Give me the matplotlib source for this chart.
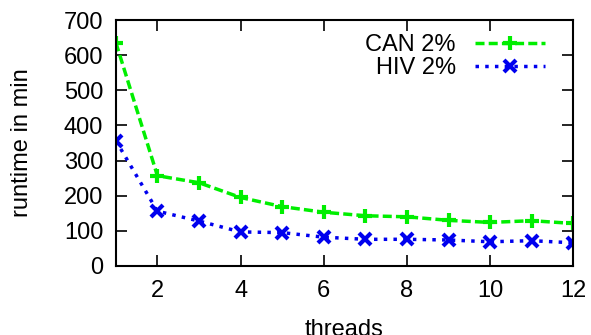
import matplotlib
matplotlib.use("Agg")
import matplotlib.pyplot as plt

threads = [1, 2, 3, 4, 5, 6, 7, 8, 9, 10, 11, 12]
can_2 = [636, 257, 237, 195, 169, 153, 143, 140, 130, 124, 129, 121]
hiv_2 = [357, 156, 128, 97, 95, 82, 76, 76, 74, 69, 72, 66]
xticks = [2, 4, 6, 8, 10, 12]
yticks = [0, 100, 200, 300, 400, 500, 600, 700]

plt.rcParams['font.family'] = ['Liberation Sans', 'DejaVu Sans']
plt.rcParams['font.size'] = 17

fig = plt.figure(figsize=(5.91, 3.35), dpi=100)
ax = fig.add_axes([0.196, 0.206, 0.774, 0.734])

ax.plot(threads, can_2, color='#00ee00', lw=2.5, dashes=(2.6, 1.2),
        marker='+', ms=10, mew=3, label='CAN 2%')
ax.plot(threads, hiv_2, color='#0000ee', lw=2.5, dashes=(1, 1.8),
        marker='x', ms=8, mew=3, label='HIV 2%')

ax.set_xlim(1, 12)
ax.set_ylim(0, 700)
ax.set_xticks(xticks)
ax.set_yticks(yticks)
ax.tick_params(direction='in', top=True, right=True, length=8, width=1.2, pad=10)
ax.tick_params(axis='y', pad=9)
for s in ax.spines.values():
    s.set_linewidth(1.5)

# the reference also has the x label cut at the bottom edge
ax.set_xlabel('threads', labelpad=12)
ax.set_ylabel('runtime in min', labelpad=22)

ax.legend(loc='upper right', frameon=False, markerfirst=False, handlelength=3.0,
          borderaxespad=0.2, labelspacing=0.05, handletextpad=0.8,
          bbox_to_anchor=(0.97, 1.0))

fig.savefig('out.png', dpi=100)
